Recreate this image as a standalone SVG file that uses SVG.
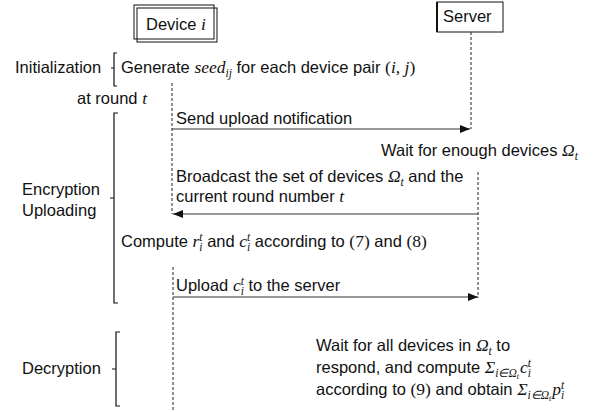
<svg xmlns="http://www.w3.org/2000/svg" width="596" height="412" viewBox="0 0 596 412">
<style>
text{font-family:"Liberation Sans",Arial,sans-serif;font-size:16.5px;fill:#111}
.m{font-family:"Liberation Serif","Times New Roman",serif;font-style:italic;font-size:17.5px}
.u{font-family:"Liberation Serif","Times New Roman",serif;font-style:normal;font-size:17.5px}
.s{font-size:11.5px}
.ss{font-size:8px}
.life{stroke:#222;stroke-width:1;stroke-dasharray:3 2;fill:none}
.msg{stroke:#333;stroke-width:1.2;fill:none}
.br{stroke:#111;stroke-width:1.2;fill:none}
</style>
<defs>
<marker id="ah" viewBox="0 0 10 8" refX="10" refY="4" markerWidth="10" markerHeight="8" markerUnits="userSpaceOnUse" orient="auto">
<path d="M0,0 L10,4 L0,8 Z" fill="#111"/>
</marker>
</defs>
<g id="device">
<rect x="134" y="5" width="80" height="34" fill="none" stroke="#111" stroke-width="1"/>
<rect x="137" y="8" width="80" height="34" fill="none" stroke="#111" stroke-width="1"/>
<text x="146" y="30">Device <tspan class="m">i</tspan></text>
</g>
<g id="server">
<rect x="437" y="2" width="66" height="30" fill="#fff" stroke="#111" stroke-width="1"/>
<line x1="437" y1="2" x2="437" y2="32" stroke="#111" stroke-width="2"/>
<text x="443" y="22">Server</text>
</g>
<g id="lifelines">
<line class="life" x1="172" y1="83" x2="172" y2="214"/>
<line class="life" x1="173" y1="267" x2="173" y2="412"/>
<line class="life" x1="471" y1="32" x2="471" y2="129"/>
<line class="life" x1="478" y1="172" x2="478" y2="298"/>
</g>
<g id="connectors">
<line class="msg" x1="172" y1="129" x2="470" y2="129" marker-end="url(#ah)"/>
<line class="msg" x1="478" y1="214" x2="173" y2="214" stroke="#666" marker-end="url(#ah)"/>
<line class="msg" x1="173" y1="297" x2="478" y2="297" marker-end="url(#ah)"/>
</g>
<g id="phase-init">
<text x="15" y="73">Initialization</text>
<path class="br" d="M117,53 H114 V86 H117 M114,68 H111"/>
<text x="121" y="73">Generate <tspan class="m">seed</tspan><tspan class="m s" dy="4">ij</tspan><tspan dy="-4"> for each device pair </tspan><tspan class="u">(</tspan><tspan class="m">i</tspan><tspan class="u">, </tspan><tspan class="m">j</tspan><tspan class="u">)</tspan></text>
<text x="77" y="104">at round <tspan class="m">t</tspan></text>
</g>
<g id="phase-enc">
<text x="22" y="195">Encryption</text>
<text x="22" y="216">Uploading</text>
<path class="br" d="M118,113 H114 V303 H118 M114,198 H110" stroke="#777"/>
<text x="176" y="124">Send upload notification</text>
<text x="381" y="156">Wait for enough devices <tspan class="m">Ω</tspan><tspan class="m s" dy="4">t</tspan></text>
<text x="176" y="182">Broadcast the set of devices <tspan class="m">Ω</tspan><tspan class="m s" dy="4">t</tspan><tspan dy="-4"> and the</tspan></text>
<text x="176" y="202">current round number <tspan class="m">t</tspan></text>
<text x="121" y="247">Compute <tspan class="m">r</tspan><tspan class="m s" dy="-6">t</tspan><tspan class="m s" dx="-3.2" dy="10">i</tspan><tspan dy="-4"> and </tspan><tspan class="m">c</tspan><tspan class="m s" dy="-6">t</tspan><tspan class="m s" dx="-3.2" dy="10">i</tspan><tspan dy="-4"> according to </tspan><tspan class="u">(7)</tspan> and <tspan class="u">(8)</tspan></text>
<text x="176" y="291">Upload <tspan class="m">c</tspan><tspan class="m s" dy="-6">t</tspan><tspan class="m s" dx="-3.2" dy="10">i</tspan><tspan dy="-4"> to the server</tspan></text>
</g>
<g id="phase-dec">
<text x="22" y="374">Decryption</text>
<path class="br" d="M120,332 H116 V406 H120 M116,369 H112"/>
<text x="316" y="351">Wait for all devices in <tspan class="m">Ω</tspan><tspan class="m s" dy="4">t</tspan><tspan dy="-4"> to</tspan></text>
<text x="316" y="373">respond, and compute <tspan class="m">Σ</tspan><tspan class="m s" dy="4">i∈Ω</tspan><tspan class="m ss" dy="2">t</tspan><tspan class="m" dx="1" dy="-6">c</tspan><tspan class="m s" dy="-6">t</tspan><tspan class="m s" dx="-3.2" dy="10">i</tspan></text>
<text x="316" y="395">according to <tspan class="u">(9)</tspan> and obtain <tspan class="m">Σ</tspan><tspan class="m s" dy="4">i∈Ω</tspan><tspan class="m ss" dy="2">t</tspan><tspan class="m" dx="1" dy="-6">p</tspan><tspan class="m s" dy="-6">t</tspan><tspan class="m s" dx="-3.2" dy="10">i</tspan></text>
</g>
</svg>
